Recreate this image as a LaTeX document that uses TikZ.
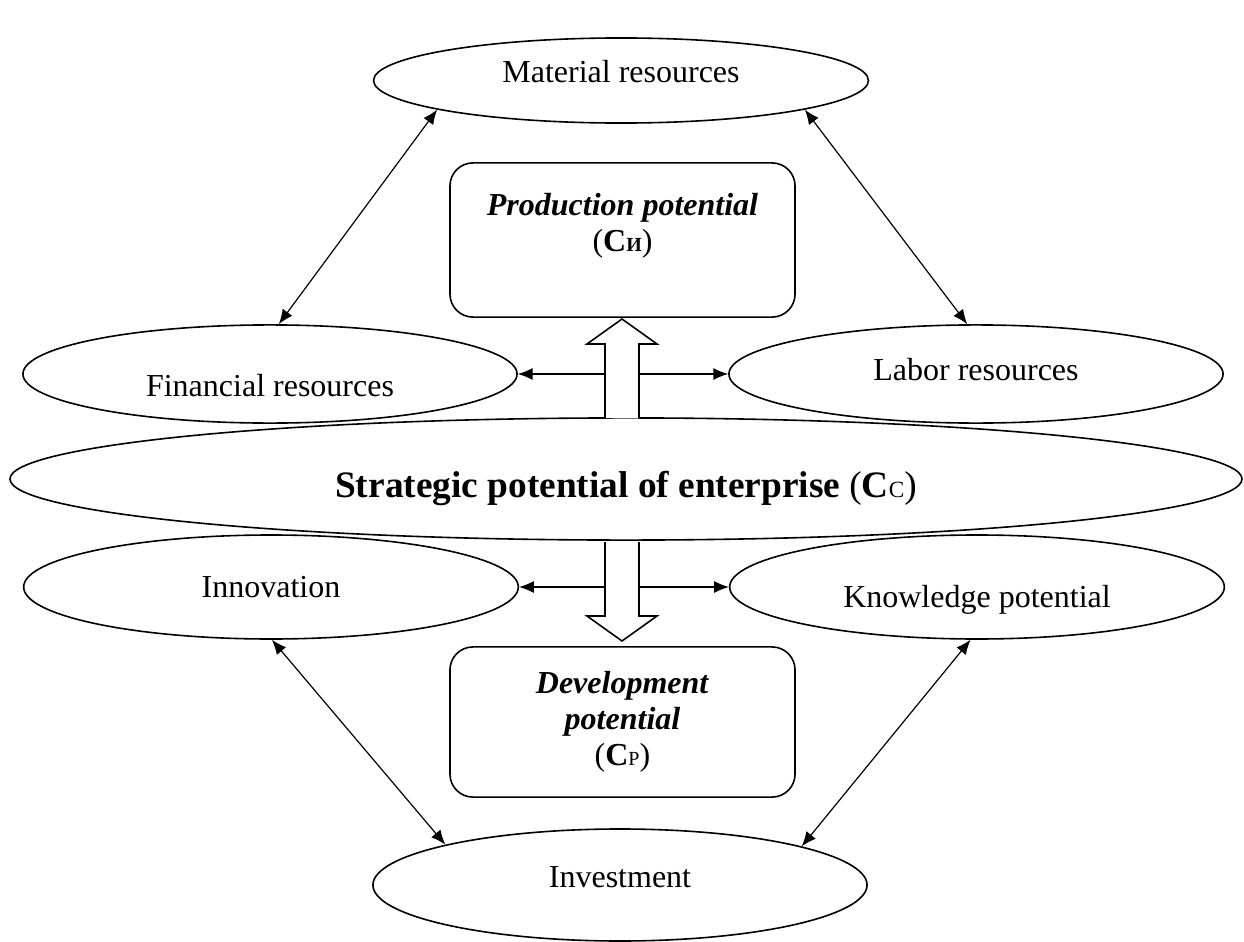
\documentclass[tikz,border=0pt]{standalone}
\usepackage{fontspec}
\setmainfont{Liberation Serif}
\usetikzlibrary{shapes.geometric,arrows.meta}

\begin{document}
\begin{tikzpicture}[x=0.375pt,y=-0.375pt,
        every node/.style={align=center,font=\fontsize{12}{13.5}\selectfont},
        res/.style={draw,ellipse,line width=0.6pt,inner sep=0pt},
        sink/.style={text height=#1,text depth=0pt},
        pot/.style={draw,rounded corners=8.6pt,line width=0.6pt,minimum width=129.4pt},
        link/.style={line width=0.45pt,-{Latex[length=5.5pt,width=4.5pt]}},
        twoway/.style={link,{Latex[length=5.5pt,width=4.5pt]}-{Latex[length=5.5pt,width=4.5pt]}},
        blockarrow/.style={draw,fill=white,line width=0.6pt}]
    \useasboundingbox (0,0) rectangle (1244,942);
    % resources around the enterprise
    \node[res,sink=1.2pt,minimum width=185.6pt,minimum height=31.9pt] (mat) at (621,80.5) {Material resources};
    \node[res,sink=17.2pt,minimum width=185.3pt,minimum height=36.8pt] (fin) at (270,374) {Financial resources};
    \node[res,sink=4.5pt,minimum width=185.3pt,minimum height=36.8pt] (lab) at (976,374) {Labor resources};
    \node[res,sink=14.2pt,minimum width=462pt,minimum height=45.8pt,font=\fontsize{14}{16}\selectfont] (strat) at (626,479)
        {\textbf{Strategic potential of enterprise} (\textbf{С}{\fontsize{8.7}{10}\selectfont С})};
    \node[res,minimum width=185.5pt,minimum height=39pt] (inn) at (271,587) {Innovation};
    \node[res,sink=15pt,minimum width=185.5pt,minimum height=39pt] (kno) at (977,587) {Knowledge potential};
    \node[res,sink=1.5pt,minimum width=185.3pt,minimum height=42pt] (inv) at (620,885) {Investment};
    % the two potentials
    \node[pot,minimum height=57.8pt] (prod) at (622.5,240)
        {\textbf{\textit{Production potential}}\\(\textbf{С{\fontsize{7.5}{9}\selectfont И}})\\\mbox{}};
    \node[pot,minimum height=56.3pt] (dev) at (622.5,722)
        {\textbf{\textit{Development}}\\\textbf{\textit{potential}}\\(\textbf{С}{\fontsize{7.5}{9}\selectfont Р})};
    % block arrows
    \draw[blockarrow] (605,418) -- (605,344) -- (587,344) -- (622,319) -- (657,344) -- (639,344) -- (639,418);
    \draw[blockarrow] (605,542) -- (605,616) -- (587,616) -- (622,641) -- (657,616) -- (639,616) -- (639,542);
    % side arrows
    \draw[link] (605,374) -- (fin.east);
    \draw[link] (639,374) -- (lab.west);
    \draw[link] (605,587) -- (inn.east);
    \draw[link] (639,587) -- (kno.west);
    % diagonals
    \draw[twoway] (mat.189) -- (fin.80);
    \draw[twoway] (mat.351) -- (lab.100);
    \draw[twoway] (inn.271) -- (inv.167);
    \draw[twoway] (kno.263) -- (inv.12);
\end{tikzpicture}
\end{document}
